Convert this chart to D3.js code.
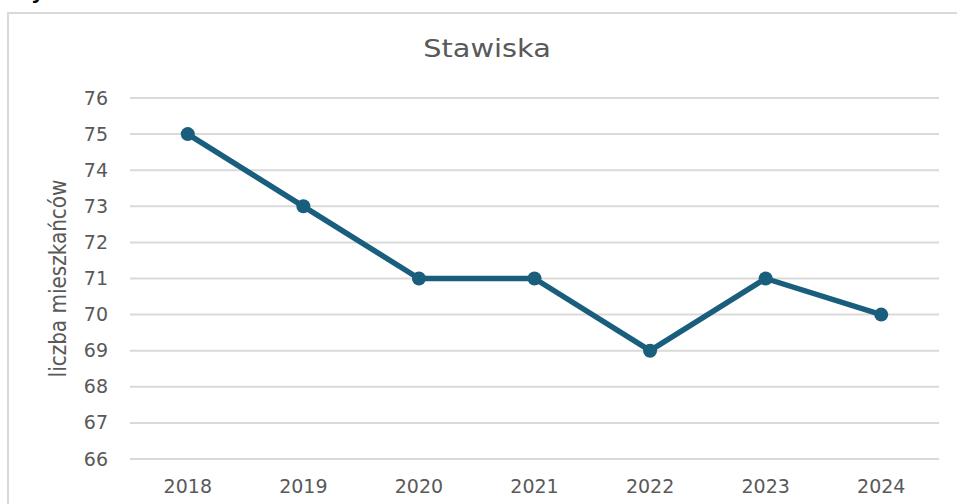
<!DOCTYPE html>
<html>
<head>
<meta charset="utf-8">
<script src="https://cdn.jsdelivr.net/npm/d3@7"></script>
<style>
  body { margin: 0; background: #fff; }
  text { font-family: "DejaVu Sans", sans-serif; fill: #595959; }
</style>
</head>
<body>
<div id="chart"></div>
<script>
// Data
const years = ["2018", "2019", "2020", "2021", "2022", "2023", "2024"];
const residents = [75, 73, 71, 71, 69, 71, 70];
const yTicks = [66, 67, 68, 69, 70, 71, 72, 73, 74, 75, 76];
const title = "Stawiska";
const yTitle = "liczba mieszkańców";

const width = 957;
const height = 504;
const margin = { top: 98, right: 18, bottom: 45, left: 130 };

const svg = d3
  .select("#chart")
  .append("svg")
  .attr("width", width)
  .attr("height", height);

// chart frame (cut off at right and bottom)
svg
  .append("rect")
  .attr("x", 8)
  .attr("y", 13)
  .attr("width", 1000)
  .attr("height", 600)
  .attr("fill", "#fff")
  .attr("stroke", "#d9d9d9")
  .attr("stroke-width", 2);

// leftover of a caption above the chart
svg
  .append("text")
  .attr("x", 31)
  .attr("y", -1)
  .style("font-size", "20px")
  .style("font-weight", "bold")
  .style("fill", "#000")
  .text("y");

const x = d3
  .scaleBand()
  .domain(years)
  .range([margin.left, width - margin.right])
  .paddingInner(0)
  .paddingOuter(0);

const y = d3
  .scaleLinear()
  .domain([66, 76])
  .range([height - margin.bottom, margin.top]);

// gridlines
svg
  .append("g")
  .selectAll("line")
  .data(yTicks)
  .join("line")
  .attr("x1", margin.left)
  .attr("x2", width - margin.right)
  .attr("y1", (d) => y(d))
  .attr("y2", (d) => y(d))
  .attr("stroke", "#d9d9d9")
  .attr("stroke-width", 2);

// y axis labels
const yAxis = svg
  .append("g")
  .attr("transform", `translate(${margin.left - 22},0)`)
  .call(d3.axisLeft(y).tickValues(yTicks).tickSize(0).tickPadding(0));
yAxis.select(".domain").remove();
yAxis.selectAll("text").style("font-size", "19px").attr("fill", "#595959");

// x axis labels
const xAxis = svg
  .append("g")
  .attr("transform", `translate(0,${height - margin.bottom + 20})`)
  .call(d3.axisBottom(x).tickSize(0).tickPadding(0));
xAxis.select(".domain").remove();
xAxis.selectAll("text").style("font-size", "19px").attr("fill", "#595959");

// title
svg
  .append("text")
  .attr("transform", "translate(487,57) scale(1.2,1)")
  .attr("text-anchor", "middle")
  .style("font-size", "24px")
  .text(title);

// y axis title
svg
  .append("text")
  .attr("transform", `translate(66,${(y(66) + y(76)) / 2}) rotate(-90) scale(1,1.12)`)
  .attr("text-anchor", "middle")
  .style("font-size", "20px")
  .text(yTitle);

const cx = (d) => x(d) + x.bandwidth() / 2;

const line = d3
  .line()
  .x((d, i) => cx(years[i]))
  .y((d) => y(d));

svg
  .append("path")
  .datum(residents)
  .attr("d", line)
  .attr("fill", "none")
  .attr("stroke", "#1a5e7e")
  .attr("stroke-width", 5.5)
  .attr("stroke-linejoin", "round");

svg
  .append("g")
  .selectAll("circle")
  .data(residents)
  .join("circle")
  .attr("cx", (d, i) => cx(years[i]))
  .attr("cy", (d) => y(d))
  .attr("r", 7)
  .attr("fill", "#1a5e7e");
</script>
</body>
</html>
